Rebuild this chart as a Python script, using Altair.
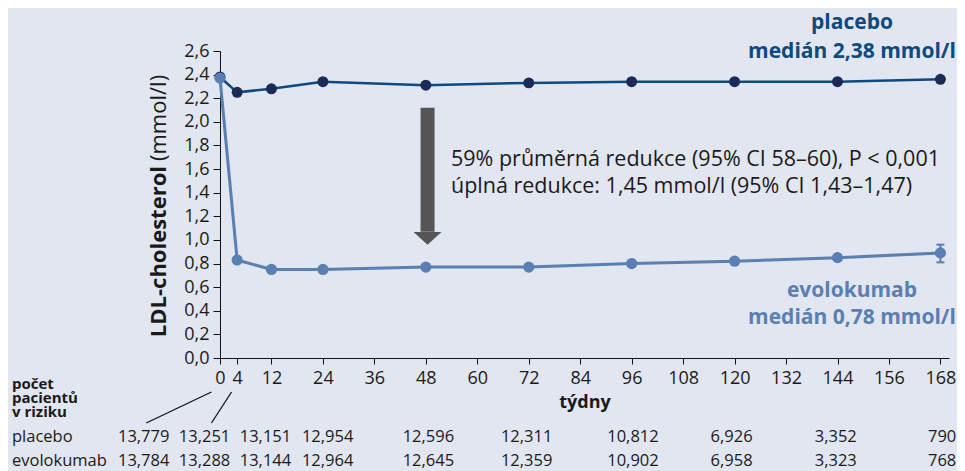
import altair as alt
import pandas as pd

# ---------------- data ----------------
weeks = [0, 4, 12, 24, 48, 72, 96, 120, 144, 168]
placebo_ldl = [2.38, 2.25, 2.28, 2.34, 2.31, 2.33, 2.34, 2.34, 2.34, 2.36]
evolo_ldl = [2.37, 0.83, 0.75, 0.75, 0.77, 0.77, 0.80, 0.82, 0.85, 0.89]
evolo_err_week = [168]
evolo_err_low = [0.81]
evolo_err_high = [0.96]

x_ticks = [0, 4, 12, 24, 36, 48, 60, 72, 84, 96, 108, 120, 132, 144, 156, 168]
y_ticks = [0.0, 0.2, 0.4, 0.6, 0.8, 1.0, 1.2, 1.4, 1.6, 1.8, 2.0, 2.2, 2.4, 2.6]

placebo_risk = ["13,779", "13,251", "13,151", "12,954", "12,596", "12,311",
                "10,812", "6,926", "3,352", "790"]
evolo_risk = ["13,784", "13,288", "13,144", "12,964", "12,645", "12,359",
              "10,902", "6,958", "3,323", "768"]

annotation_lines = ["59% průměrná redukce (95% CI 58–60), P < 0,001",
                    "úplná redukce: 1,45 mmol/l (95% CI 1,43–1,47)"]

# ---------------- layout (not data) ----------------
table_x = [-17.8, -3.6, 10.6, 25.1, 48.6, 71.5, 96.3, 119.3, 143.6, 168.4]
arrow_week = [48.4]
arrow_top = [2.12]
arrow_shaft_end = [1.07]
arrow_head_mid = [1.013]
leader_x = [-2.0, 2.7]
leader_x2 = [-17.2, -2.0]

W, H = 729, 307
BG = "#e2e6f0"
PL_LINE = "#0d4a80"
PL_DOT = "#1c2a5a"
EV = "#5a7fb2"
TXT = "#1a1a1a"
FONT = "Open Sans"

xs = alt.Scale(domain=[0, 170], nice=False, zero=False)
ys = alt.Scale(domain=[0, 2.6], nice=False)

df = pd.DataFrame({"week": weeks, "placebo": placebo_ldl, "evolo": evolo_ldl})
err = pd.DataFrame({"week": evolo_err_week, "lo": evolo_err_low, "hi": evolo_err_high})

base = alt.Chart(df)

x_axis = alt.Axis(values=x_ticks, title="týdny", grid=False, tickSize=6,
                  labelPadding=5, titlePadding=6, labelFontSize=18,
                  titleFontSize=18, titleFontWeight="bold", labelFont=FONT,
                  titleFont=FONT, labelColor=TXT, titleColor=TXT,
                  domainColor="#111", tickColor="#111", labelFlush=False,
                  labelOverlap=False)
y_axis = alt.Axis(values=y_ticks, title=None,
                  grid=False, tickSize=7, labelPadding=4, labelFontSize=18,
                  labelFont=FONT, labelColor=TXT, domainColor="#111",
                  tickColor="#111", labelOverlap=False, labelFlush=False,
                  labelBound=False,
                  labelExpr="replace(format(datum.value, '.1f'), '.', ',')")

pl_line = base.mark_line(color=PL_LINE, strokeWidth=2.5).encode(
    x=alt.X("week:Q", scale=xs, axis=x_axis),
    y=alt.Y("placebo:Q", scale=ys, axis=y_axis),
)
pl_pts = base.mark_circle(color=PL_DOT, size=120, opacity=1).encode(
    x=alt.X("week:Q", scale=xs, axis=x_axis), y=alt.Y("placebo:Q", scale=ys, axis=y_axis))

ev_line = base.mark_line(color=EV, strokeWidth=3).encode(
    x=alt.X("week:Q", scale=xs, axis=x_axis), y=alt.Y("evolo:Q", scale=ys, axis=y_axis))
ev_pts = base.mark_circle(color=EV, size=125, opacity=1).encode(
    x=alt.X("week:Q", scale=xs, axis=x_axis), y=alt.Y("evolo:Q", scale=ys, axis=y_axis))

err_rule = alt.Chart(err).mark_rule(color=EV, strokeWidth=2).encode(
    x=alt.X("week:Q", scale=xs, axis=x_axis), y=alt.Y("lo:Q", scale=ys, axis=y_axis), y2="hi:Q")
err_lo = alt.Chart(err).mark_point(shape="M-1,0L1,0", size=64, strokeWidth=2,
                                   color=EV, filled=False, opacity=1).encode(
    x=alt.X("week:Q", scale=xs, axis=x_axis), y=alt.Y("lo:Q", scale=ys, axis=y_axis))
err_hi = alt.Chart(err).mark_point(shape="M-1,0L1,0", size=64, strokeWidth=2,
                                   color=EV, filled=False, opacity=1).encode(
    x=alt.X("week:Q", scale=xs, axis=x_axis), y=alt.Y("hi:Q", scale=ys, axis=y_axis))

arrow_df = pd.DataFrame({"w": arrow_week, "top": arrow_top,
                         "end": arrow_shaft_end, "mid": arrow_head_mid})
shaft = alt.Chart(arrow_df).mark_rule(color="#555555", strokeWidth=14,
                                      strokeCap="butt").encode(
    x=alt.X("w:Q", scale=xs, axis=x_axis), y=alt.Y("top:Q", scale=ys, axis=y_axis), y2="end:Q")
head = alt.Chart(arrow_df).mark_point(shape="M-1,-0.46L1,-0.46L0,0.46Z",
                                      size=784, filled=True, color="#555555",
                                      opacity=1).encode(
    x=alt.X("w:Q", scale=xs, axis=x_axis), y=alt.Y("mid:Q", scale=ys, axis=y_axis))


def label(text, x, y, **kw):
    return alt.Chart(pd.DataFrame({"t": [text]})).mark_text(font=FONT, **kw).encode(
        x=alt.value(x), y=alt.value(y), text="t:N")


ann = label(annotation_lines[0] + "\n" + annotation_lines[1], 231, 115,
            align="left", baseline="alphabetic", fontSize=21.5, color=TXT,
            lineBreak="\n", lineHeight=27)

pl_lab = label("placebo\nmedián 2,38 mmol/l", 632, -22, align="center",
               baseline="alphabetic", fontSize=21, fontWeight="bold",
               color=PL_LINE, lineBreak="\n", lineHeight=29)
ev_lab = label("evolokumab\nmedián 0,78 mmol/l", 632, 246, align="center",
               baseline="alphabetic", fontSize=21, fontWeight="bold",
               color=EV, lineBreak="\n", lineHeight=27)

yt1 = label("LDL-cholesterol", -61, 115, angle=270, align="right",
            baseline="middle", fontSize=22, fontWeight="bold", color=TXT)
yt2 = label("(mmol/l)", -61, 110, angle=270, align="left",
            baseline="middle", fontSize=22, color=TXT)

risk_head = label("počet\npacientů\nv riziku", -208, 338, align="left",
                  baseline="alphabetic", fontSize=15, fontWeight="bold",
                  color=TXT, lineBreak="\n", lineHeight=14)

row1 = label("placebo", -208, 386, align="left", baseline="middle",
             fontSize=16.5, color=TXT)
row2 = label("evolokumab", -208, 410, align="left", baseline="middle",
             fontSize=16.5, color=TXT)


def risk_row(values, y):
    d = pd.DataFrame({"pos": table_x, "n": values})
    return alt.Chart(d).mark_text(align="center", baseline="middle",
                                  fontSize=16.5, font=FONT, color=TXT).encode(
        x=alt.X("pos:Q", scale=xs, axis=x_axis), y=alt.value(y), text="n:N")


risk1 = risk_row(placebo_risk, 386)
risk2 = risk_row(evolo_risk, 410)

leaders = alt.Chart(pd.DataFrame({"a": leader_x, "b": leader_x2})).mark_rule(
    color="#111", strokeWidth=1.3).encode(
    x=alt.X("a:Q", scale=xs, axis=x_axis), x2="b:Q", y=alt.value(341), y2=alt.value(372))

chart = alt.layer(
    pl_line, pl_pts, ev_line, ev_pts, err_rule, err_lo, err_hi,
    shaft, head, ann, pl_lab, ev_lab, yt1, yt2,
    risk_head, row1, row2, risk1, risk2, leaders,
).properties(
    width=W, height=H,
    padding={"left": 212, "top": 43, "right": 8, "bottom": 113},
    autosize=alt.AutoSizeParams(type="none"),
    background=BG,
).configure_view(stroke=None).configure_axis(
    grid=False, labelOverlap=False, labelFlush=False
).configure_axisY(labelOverlap=False)

chart.save("out.html", embed_options={"renderer": "svg", "actions": False})
